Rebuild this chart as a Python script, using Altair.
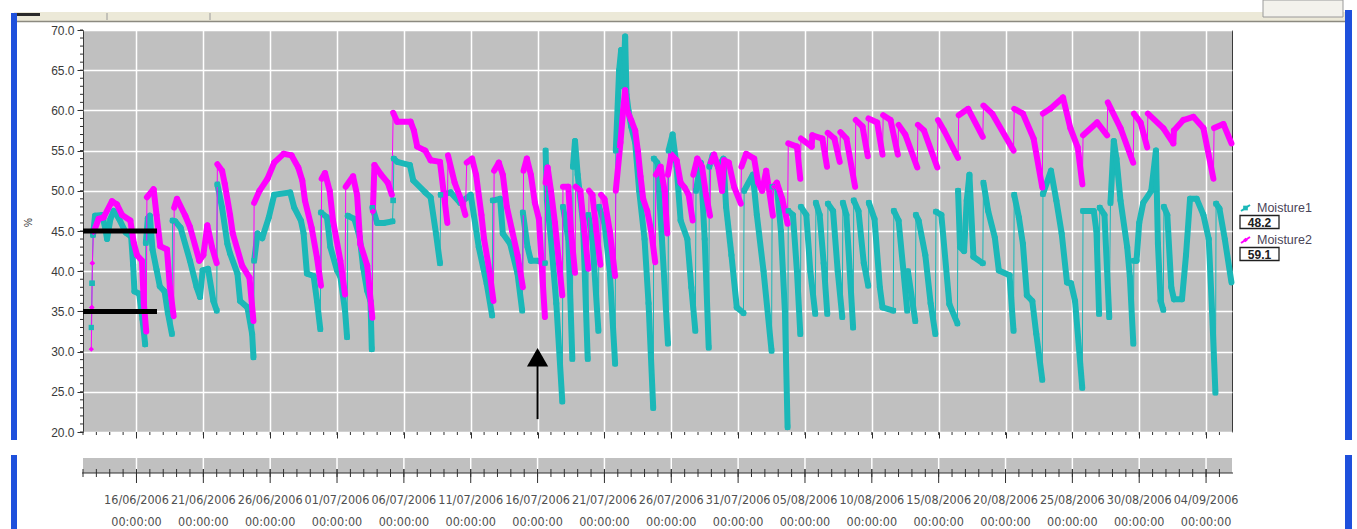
import altair as alt
import pandas as pd

# ---------------- data (day offsets from 12/06/2006 00:00, value in %) ----------------
moisture1_points = [
    (0.62, 33.0), (0.68, 38.5), (0.75, 44.5), (0.9, 46.9), (1.45, 47.0), (1.7, 45.0), (1.8, 44.0), (2.05, 46.5),
    (2.3, 47.5), (2.7, 46.5), (3.2, 44.8), (3.6, 44.3), (3.75, 40.8), (3.85, 37.5), (4.2, 37.2), (4.45, 34.0), (4.65, 30.9),
    (4.7, 43.5), (4.85, 46.6), (5.0, 46.9), (5.2, 42.7), (5.5, 40.2), (5.75, 38.1), (6.1, 37.5), (6.35, 34.8), (6.65, 32.2),
    (6.7, 46.3), (6.9, 46.2), (7.3, 45.4), (8.0, 41.3), (8.5, 38.0), (8.75, 36.8), (8.95, 40.1), (9.35, 40.3), (9.75, 36.3), (10.0, 35.1),
    (10.05, 50.8), (10.4, 47.9), (10.8, 43.4), (11.0, 42.2), (11.55, 39.7), (11.75, 36.3), (12.3, 35.5), (12.65, 32.2), (12.75, 29.3),
    (12.8, 41.3), (13.05, 44.7), (13.4, 44.1), (13.9, 46.7), (14.3, 49.5), (15.5, 49.8), (15.8, 47.9), (16.3, 46.3), (16.5, 44.7),
    (16.75, 39.7), (17.25, 39.4), (17.5, 36.3), (17.75, 32.8),
    (17.8, 47.3), (18.25, 46.7), (18.5, 43.0), (19.0, 40.1), (19.25, 39.3), (19.6, 35.1), (19.75, 31.8),
    (19.8, 46.9), (20.3, 46.5), (20.7, 44.2), (20.95, 40.5), (21.25, 37.6), (21.5, 36.3), (21.6, 30.3),
    (21.65, 47.9), (22.0, 46.0), (22.5, 46.0), (23.15, 46.2), (23.2, 48.8),
    (23.25, 54.0), (23.5, 53.6), (24.45, 53.2), (24.7, 51.3), (25.6, 49.8), (26.0, 49.2), (26.4, 44.7), (26.7, 41.0),
    (26.75, 49.5), (27.5, 49.8), (28.2, 48.5), (29.0, 49.5), (29.6, 43.0), (30.2, 38.4), (30.6, 34.5),
    (30.65, 48.8), (31.2, 49.0), (31.4, 44.7), (31.95, 43.4), (32.5, 39.7), (32.85, 35.1),
    (32.9, 47.3), (33.25, 43.0), (33.5, 41.3), (34.0, 41.3), (34.55, 41.0),
    (34.6, 55.0), (34.7, 48.8), (35.0, 44.0), (35.4, 36.0), (35.85, 23.8),
    (35.9, 48.0), (36.3, 44.0), (36.6, 29.1),
    (36.65, 53.0), (36.8, 56.2), (37.0, 52.0), (37.4, 46.0), (37.75, 29.1),
    (37.8, 47.0), (38.1, 44.0), (38.55, 32.6),
    (38.6, 48.0), (39.0, 46.0), (39.4, 40.0), (39.8, 28.5),
    (39.85, 55.0), (40.1, 65.0), (40.25, 67.5), (40.4, 63.0), (40.55, 69.2), (40.65, 62.0), (40.8, 60.0), (41.0, 58.0),
    (41.3, 56.0), (41.6, 50.0), (42.0, 44.0), (42.3, 36.0), (42.65, 23.0),
    (42.7, 54.0), (42.95, 53.5), (43.3, 44.0), (43.75, 31.0),
    (43.8, 55.0), (44.1, 57.0), (44.4, 53.0), (44.7, 46.3), (45.2, 44.0), (45.5, 38.0), (45.8, 32.6),
    (45.85, 50.0), (46.2, 53.5), (46.5, 44.0), (46.8, 30.5),
    (46.85, 53.0), (47.1, 54.4), (47.5, 53.0), (47.9, 54.0), (48.1, 48.0), (48.5, 42.0), (48.9, 35.5), (49.4, 34.8),
    (49.45, 50.0), (50.1, 52.0), (50.4, 47.0), (50.9, 40.0), (51.5, 30.1),
    (51.55, 50.5), (51.9, 50.5), (52.2, 45.0), (52.5, 35.0), (52.7, 20.6),
    (52.75, 47.5), (53.1, 47.0), (53.4, 40.0), (53.65, 32.2),
    (53.7, 48.0), (54.1, 47.0), (54.4, 40.0), (54.77, 34.7),
    (54.82, 48.5), (55.1, 47.0), (55.4, 41.0), (55.67, 34.7),
    (55.72, 48.4), (56.1, 47.5), (56.45, 40.0), (56.79, 34.3),
    (56.84, 48.5), (57.1, 47.0), (57.35, 40.0), (57.6, 33.0),
    (57.65, 48.8), (58.0, 47.5), (58.4, 41.0), (58.73, 38.2),
    (58.78, 48.5), (59.2, 46.5), (59.6, 38.0), (59.8, 35.5), (60.6, 35.1),
    (60.65, 47.5), (61.0, 46.3), (61.65, 35.1), (61.7, 40.0), (62.25, 33.8),
    (62.3, 47.0), (62.5, 46.3), (63.0, 42.0), (63.4, 36.0), (63.75, 32.2),
    (63.8, 47.4), (64.2, 47.0), (64.8, 35.9), (65.4, 33.5),
    (65.45, 50.0), (65.6, 43.0), (65.9, 42.5), (66.1, 48.8), (66.3, 52.0), (66.6, 41.8), (67.3, 41.0),
    (67.35, 51.0), (67.7, 47.5), (68.2, 44.2), (68.5, 40.1), (69.3, 39.5), (69.6, 32.6),
    (69.65, 49.5), (70.0, 46.7), (70.3, 43.4), (70.6, 37.0), (71.0, 36.3), (71.3, 32.2), (71.75, 26.5),
    (71.8, 49.6), (72.4, 52.5), (72.8, 48.8), (73.2, 44.7), (73.6, 38.6), (73.9, 38.5), (74.2, 36.3), (74.74, 25.5),
    (74.8, 47.5), (75.6, 47.5), (75.8, 45.0), (76.0, 34.7),
    (76.05, 47.9), (76.4, 47.0), (76.76, 34.3),
    (76.85, 48.5), (77.1, 56.2), (77.3, 54.0), (77.6, 48.8), (78.1, 43.0), (78.3, 39.3), (78.56, 31.0),
    (78.6, 41.3), (78.8, 41.3), (79.0, 46.0), (79.3, 48.5), (79.9, 50.0), (80.25, 55.0), (80.4, 43.4), (80.6, 36.3), (80.8, 35.2),
    (80.85, 48.0), (81.1, 47.0), (81.4, 38.0), (81.6, 36.5), (82.2, 36.5), (82.5, 42.0), (82.8, 49.0), (83.3, 49.0),
    (83.8, 47.0), (84.2, 44.0), (84.45, 35.0), (84.7, 24.9),
    (84.75, 48.4), (85.0, 47.8), (85.4, 44.0), (85.9, 38.6),
]

moisture2_points = [
    (0.62, 30.3), (0.66, 35.5), (0.7, 41.0), (0.78, 44.8), (1.17, 46.5), (1.54, 46.7), (2.17, 48.7), (2.54, 48.3),
    (2.92, 47.0), (3.54, 46.3), (3.8, 43.5), (4.04, 42.0), (4.41, 41.3), (4.55, 36.0), (4.73, 32.5),
    (4.78, 49.2), (5.28, 50.2), (5.5, 47.0), (5.78, 43.1), (6.28, 42.7), (6.5, 38.0), (6.78, 34.4),
    (6.82, 47.9), (7.03, 49.0), (7.65, 46.9), (8.0, 45.5), (8.7, 41.3), (9.0, 42.0), (9.3, 45.7), (9.65, 43.0), (10.0, 41.0),
    (10.05, 53.3), (10.4, 52.5), (10.6, 50.9), (11.0, 47.0), (11.2, 44.7), (11.9, 40.7), (12.45, 39.2), (12.75, 33.8),
    (12.8, 48.5), (13.2, 50.0), (13.8, 51.5), (14.3, 53.5), (15.0, 54.6), (15.6, 54.4), (16.1, 52.9), (16.4, 51.3),
    (16.6, 48.8), (17.1, 45.4), (17.5, 41.7), (17.8, 38.2),
    (17.85, 51.5), (18.1, 52.2), (18.45, 50.0), (18.7, 46.3), (19.25, 41.3), (19.6, 37.1),
    (19.65, 50.5), (20.2, 51.8), (20.5, 49.5), (20.74, 43.4), (21.26, 40.7), (21.64, 34.2),
    (21.68, 47.5), (21.8, 53.2), (22.3, 52.0), (22.8, 51.0), (23.1, 49.5),
    (23.2, 59.7), (23.5, 58.6), (24.5, 58.6), (24.75, 57.5), (25.0, 55.5), (25.6, 55.0), (26.0, 53.8), (26.7, 53.6),
    (27.0, 49.5), (27.25, 46.0),
    (27.3, 54.4), (27.8, 51.0), (28.3, 48.8), (28.6, 47.0),
    (28.7, 53.5), (29.1, 54.0), (29.4, 52.0), (29.8, 47.0), (30.0, 44.0), (30.4, 40.0), (30.7, 36.3),
    (30.75, 52.5), (31.1, 53.5), (31.4, 52.0), (31.7, 48.0), (32.1, 45.0), (32.5, 42.0), (32.9, 38.0),
    (32.95, 52.5), (33.2, 54.0), (33.5, 52.0), (33.8, 48.5), (34.1, 46.5), (34.3, 41.0), (34.55, 34.3),
    (34.6, 51.0), (34.75, 52.9), (35.0, 50.0), (35.3, 46.0), (35.6, 41.0), (35.85, 37.0),
    (35.9, 50.5), (36.3, 50.5), (36.5, 45.0), (36.8, 39.8),
    (36.85, 50.5), (37.2, 50.0), (37.5, 45.0), (37.8, 40.3),
    (37.85, 50.0), (38.1, 49.5), (38.4, 45.0), (38.7, 40.8),
    (38.75, 49.5), (39.0, 49.0), (39.4, 45.0), (39.8, 39.4),
    (39.85, 50.0), (40.2, 56.0), (40.4, 60.0), (40.55, 62.5), (40.7, 60.0), (41.0, 58.8), (41.3, 57.5), (41.5, 55.0),
    (41.7, 51.8), (41.9, 49.0), (42.2, 47.5), (42.5, 45.0), (42.8, 41.1),
    (42.85, 52.0), (43.2, 53.0), (43.5, 50.0), (43.7, 44.7),
    (43.75, 52.0), (44.0, 54.5), (44.4, 53.8), (44.7, 51.0), (45.0, 50.4), (45.3, 49.5), (45.6, 46.3),
    (45.65, 52.0), (45.95, 54.0), (46.3, 53.0), (46.6, 49.5), (46.9, 46.9),
    (46.95, 53.5), (47.2, 54.5), (47.5, 53.0), (47.8, 50.0), (47.95, 53.8), (48.3, 53.5), (48.7, 50.5), (49.2, 48.4),
    (49.25, 53.0), (49.6, 54.6), (50.2, 54.0), (50.5, 51.0), (50.8, 50.0), (51.1, 52.5), (51.6, 46.9),
    (51.65, 50.5), (51.9, 51.0), (52.3, 49.0), (52.7, 45.9),
    (52.75, 55.9), (53.4, 55.5), (53.65, 51.5),
    (53.7, 56.5), (54.5, 55.5), (54.55, 56.9), (55.3, 56.5), (55.65, 53.0),
    (55.7, 57.2), (56.2, 56.5), (56.6, 53.6),
    (56.65, 57.3), (57.1, 56.5), (57.75, 50.5),
    (57.8, 58.8), (58.3, 58.0), (58.7, 54.3),
    (58.75, 59.0), (59.4, 58.5), (59.8, 54.5),
    (59.85, 59.4), (60.4, 58.8), (60.95, 54.5),
    (61.0, 58.2), (61.5, 57.0), (62.4, 52.9),
    (62.45, 58.2), (62.9, 57.5), (63.9, 52.9),
    (63.95, 58.8), (64.4, 57.5), (65.45, 54.1),
    (65.5, 59.4), (66.2, 60.2), (67.3, 56.7),
    (67.35, 60.6), (68.0, 59.6), (69.6, 55.0),
    (69.65, 60.2), (70.3, 59.6), (71.1, 56.5), (71.75, 50.4),
    (71.8, 59.6), (72.35, 60.2), (73.3, 61.6), (73.85, 57.8), (74.4, 55.4), (74.75, 50.8),
    (74.8, 56.9), (75.85, 58.5), (76.6, 56.9), (76.65, 61.0), (77.6, 57.8), (78.55, 53.5),
    (78.6, 59.6), (79.1, 58.5), (79.6, 55.4),
    (79.65, 59.6), (80.8, 57.8), (81.55, 55.9),
    (81.6, 57.5), (82.3, 58.8), (83.05, 59.2), (83.8, 57.8), (84.55, 51.5),
    (84.6, 57.8), (85.3, 58.3), (85.9, 55.9),
]

series_names = ["Moisture1", "Moisture2"]
series_colors = ["#1BB8B8", "#FF00FF"]
legend_values = ["48.2", "59.1"]

x_domain_days = [0.0, 85.94]
y_domain = [20, 70]
y_major = [20, 25, 30, 35, 40, 45, 50, 55, 60, 65, 70]
y_minor = list(range(20, 71))
major_days = [4, 9, 14, 19, 24, 29, 34, 39, 44, 49, 54, 59, 64, 69, 74, 79, 84]
minor_days = list(range(0, 86))
date_labels = ["16/06/2006", "21/06/2006", "26/06/2006", "01/07/2006", "06/07/2006", "11/07/2006",
               "16/07/2006", "21/07/2006", "26/07/2006", "31/07/2006", "05/08/2006", "10/08/2006",
               "15/08/2006", "20/08/2006", "25/08/2006", "30/08/2006", "04/09/2006"]
time_labels = ["00:00:00"] * len(date_labels)
threshold_levels = [45, 35]
arrow_day = 34.0
arrow_tail, arrow_head = 21.6, 29.3

# ---------------- helpers ----------------
START_MS = pd.Timestamp("2006-06-12", tz="UTC").value // 10**6
DAY_MS = 86_400_000


def ms(d):
    return START_MS + d * DAY_MS


W, H = 1149, 402
xs = alt.Scale(type="utc", domain=[ms(x_domain_days[0]), ms(x_domain_days[1])], nice=False)
ys = alt.Scale(domain=y_domain, nice=False, zero=False)
FONT = "Liberation Sans, Arial, sans-serif"
NARROW = "DejaVu Sans Condensed, Liberation Sans, sans-serif"

seg_rows, pt_rows = [], []
for name, pts in zip(series_names, [moisture1_points, moisture2_points]):
    for (d0, v0), (d1, v1) in zip(pts[:-1], pts[1:]):
        jump = (d1 - d0) <= 0.12 and (v1 - v0) > 2.5
        seg_rows.append(dict(t=ms(d0), t2=ms(d1), v=v0, v2=v1, series=name,
                             kind="jump" if jump else "trace"))
        if jump:
            pt_rows.append(dict(t=ms(d0), v=v0, series=name))
            pt_rows.append(dict(t=ms(d1), v=v1, series=name))
seg_df = pd.DataFrame(seg_rows)
pt_df = pd.DataFrame(pt_rows)
color_scale = alt.Scale(domain=series_names, range=series_colors)

one = pd.DataFrame({"k": [0]})


def box(x, x2, y, y2, **kw):
    return alt.Chart(one).mark_rect(**kw).encode(
        x=alt.value(x), x2=alt.value(x2), y=alt.value(y), y2=alt.value(y2))


def line(x, x2, y, y2, **kw):
    return alt.Chart(one).mark_rule(**kw).encode(
        x=alt.value(x), x2=alt.value(x2), y=alt.value(y), y2=alt.value(y2))


def label(x, y, text, **kw):
    return alt.Chart(one).mark_text(text=text, **kw).encode(x=alt.value(x), y=alt.value(y))


# ---------------- main traces ----------------
traces = alt.Chart(seg_df).mark_rule(strokeCap="round").encode(
    x=alt.X("t:T", scale=xs, axis=alt.Axis(values=[ms(d) for d in major_days], labels=False, title=None,
                                           ticks=True, tickSize=6, tickColor="#303030", domain=False,
                                           grid=True, gridColor="white", gridWidth=1.5)),
    x2="t2:T",
    y=alt.Y("v:Q", scale=ys, axis=alt.Axis(values=y_major, format=".1f", labelFont=FONT, labelFontSize=12,
                                           labelColor="#3a3a3a", labelPadding=3, tickSize=6,
                                           tickColor="#303030", domain=False, grid=True,
                                           gridColor="white", gridWidth=1.5,
                                           title="%", titleFont=FONT, titleFontSize=10,
                                           titleFontWeight="normal", titleColor="#333",
                                           titleX=-50, titleY=192)),
    y2="v2:Q",
    color=alt.Color("series:N", scale=color_scale, legend=None),
    strokeWidth=alt.StrokeWidth("kind:N", scale=alt.Scale(domain=["jump", "trace"], range=[1.0, 6.0]),
                                legend=None),
)

points = alt.Chart(pt_df).mark_point(filled=True, opacity=1, size=28, shape="square").encode(
    x=alt.X("t:T", scale=xs), y=alt.Y("v:Q", scale=ys),
    color=alt.Color("series:N", scale=color_scale, legend=None),
    shape=alt.Shape("series:N", scale=alt.Scale(domain=series_names, range=["square", "diamond"]), legend=None),
)

minor_x_df = pd.DataFrame({"t": [ms(d) for d in minor_days]})
major_x_df = pd.DataFrame({"t": [ms(d) for d in major_days], "date": date_labels, "time": time_labels})
minor_y_df = pd.DataFrame({"v": y_minor})

x_minor_ticks = alt.Chart(minor_x_df).mark_rule(color="#303030", strokeWidth=1).encode(
    x=alt.X("t:T", scale=xs), y=alt.value(H), y2=alt.value(H + 3))
y_minor_ticks = alt.Chart(minor_y_df).mark_rule(color="#303030", strokeWidth=1).encode(
    y=alt.Y("v:Q", scale=ys), x=alt.value(-3), x2=alt.value(0))

# annotations
thr = alt.Chart(pd.DataFrame({"v": threshold_levels})).mark_rule(color="black", strokeWidth=5).encode(
    y=alt.Y("v:Q", scale=ys), x=alt.value(0), x2=alt.value(74))
arrow_df = pd.DataFrame({"t": [ms(arrow_day)], "v": [arrow_tail], "v2": [arrow_head]})
arrow_shaft = alt.Chart(arrow_df).mark_rule(color="black", strokeWidth=2).encode(
    x=alt.X("t:T", scale=xs), y=alt.Y("v:Q", scale=ys), y2="v2:Q")
arrow_tip = alt.Chart(arrow_df).mark_point(shape="triangle-up", filled=True, color="black", opacity=1,
                                           size=450).encode(
    x=alt.X("t:T", scale=xs), y=alt.Y("v2:Q", scale=ys))

# ---------------- bottom time strip ----------------
SY0, SY1 = 428, 443
strip_bg = box(0, W, SY0, SY1, color="#C0C0C0")
strip_grid = alt.Chart(major_x_df).mark_rule(color="white", strokeWidth=1.5).encode(
    x=alt.X("t:T", scale=xs), y=alt.value(SY0), y2=alt.value(SY1))
strip_axis = line(-1, W + 1, SY1, SY1, color="#303030", strokeWidth=1.2)
strip_minor = alt.Chart(minor_x_df).mark_rule(color="#303030", strokeWidth=1).encode(
    x=alt.X("t:T", scale=xs), y=alt.value(SY1 - 4), y2=alt.value(SY1 + 4))
strip_major = alt.Chart(major_x_df).mark_rule(color="#303030", strokeWidth=1).encode(
    x=alt.X("t:T", scale=xs), y=alt.value(SY1 - 4), y2=alt.value(SY1 + 10))
strip_lab1 = alt.Chart(major_x_df).mark_text(font=NARROW, fontSize=12.5, color="#505050", baseline="middle").encode(
    x=alt.X("t:T", scale=xs), y=alt.value(470), text="date:N")
strip_lab2 = alt.Chart(major_x_df).mark_text(font=NARROW, fontSize=12.5, color="#505050", baseline="middle").encode(
    x=alt.X("t:T", scale=xs), y=alt.value(492), text="time:N")

# ---------------- legend ----------------
legend_layers = []
for i, (nm, col, val) in enumerate(zip(series_names, series_colors, legend_values)):
    dy = 32 * i
    legend_layers += [
        line(1158, 1167, 181 + dy, 175 + dy, color=col, strokeWidth=2),
        alt.Chart(one).mark_point(filled=True, opacity=1, color=col, size=22,
                                  shape="square" if i == 0 else "diamond").encode(
            x=alt.value(1162.5), y=alt.value(178 + dy)),
        label(1174, 177.5 + dy, nm, font=FONT, fontSize=12.5, color="#4a4458", align="left", baseline="middle"),
        box(1157, 1196, 185.5 + dy, 198.5 + dy, fill="white", stroke="#202020", strokeWidth=1.3),
        label(1176.5, 192.5 + dy, val, font=FONT, fontSize=12, fontWeight="bold", color="#202020",
              align="center", baseline="middle"),
    ]

# ---------------- window chrome ----------------
chrome = [
    box(-69, 1262, -18, -9, color="#ECE9D8"),
    line(-69, 1262, -8.5, -8.5, color="#8C8A80", strokeWidth=1.5),
    box(-70, -43, -17, -14, color="#2a2a2a"),
    line(24, 24, -17, -10, color="#9a9a9a", strokeWidth=1),
    line(127, 127, -17, -10, color="#9a9a9a", strokeWidth=1),
    box(1180, 1260, -30, -13, fill="#F3F2EC", stroke="#9a9a9a", strokeWidth=1),
    box(-72, -66, -17, 410, color="#1E50DC"),
    box(-72, -66, 425, 499, color="#1E50DC"),
    box(1262, 1269, -20, 410, color="#1E50DC"),
    box(1262, 1269, 425, 499, color="#1E50DC"),
]

chart = alt.layer(
    traces, points, x_minor_ticks, y_minor_ticks, thr, arrow_shaft, arrow_tip,
    strip_bg, strip_grid, strip_axis, strip_minor, strip_major, strip_lab1, strip_lab2,
    *legend_layers, *chrome,
).properties(
    width=W, height=H,
    autosize=alt.AutoSizeParams(type="none"),
    padding={"left": 83, "top": 30, "right": 125, "bottom": 97},
    background="white",
).configure_view(fill="#C0C0C0", stroke="#3a3a3a", strokeWidth=1)

chart.save("out.html", embed_options={"renderer": "svg", "actions": False})
